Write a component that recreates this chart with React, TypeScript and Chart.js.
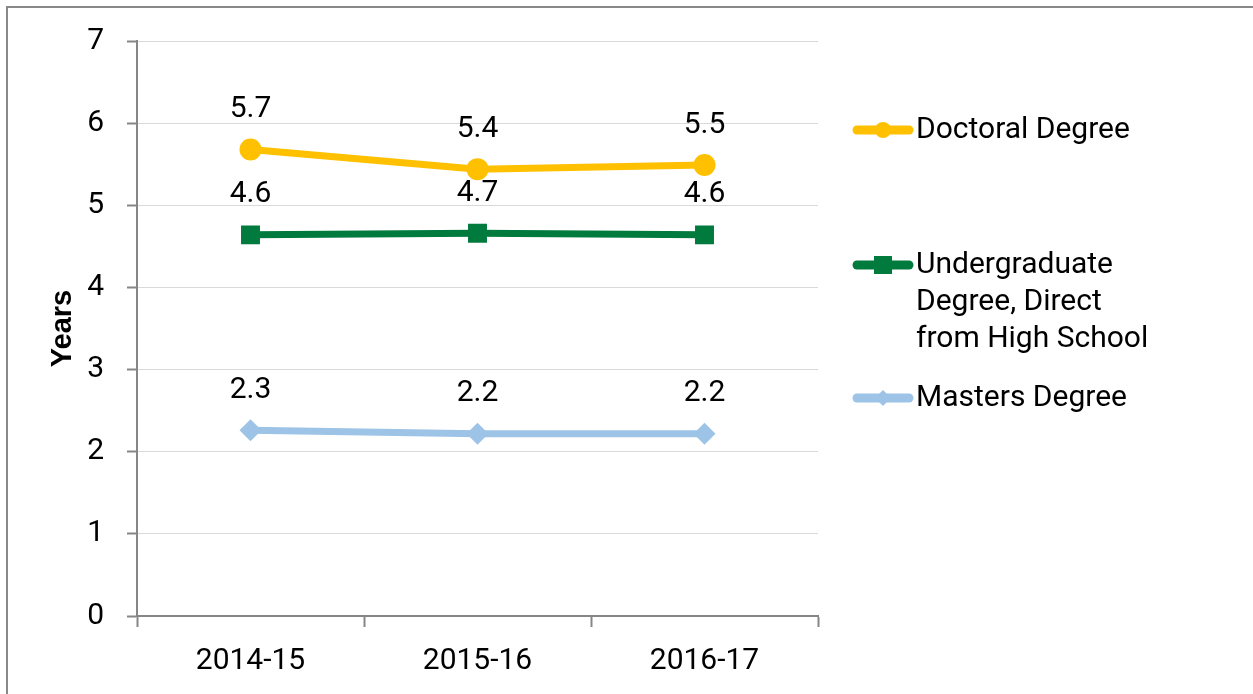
import React, { useEffect, useRef } from "react";
import { Chart, registerables } from "chart.js";

Chart.register(...registerables);

const categories = ["2014-15", "2015-16", "2016-17"];
const doctoral = [5.68, 5.44, 5.49];
const undergrad = [4.64, 4.66, 4.64];
const masters = [2.26, 2.22, 2.22];
const yMin = 0;
const yMax = 7;
const yStep = 1;
const seriesNames: (string | string[])[] = [
  "Doctoral Degree",
  ["Undergraduate", "Degree, Direct", "from High School"],
  "Masters Degree",
];
const colors = ["#FFC000", "#007A3D", "#9DC3E6"];
const axisTitle = "Years";

const FONT = "Roboto";

const framePlugin = {
  id: "frame",
  afterDraw(chart: any) {
    const ctx = chart.ctx;
    ctx.save();
    ctx.strokeStyle = "#888888";
    ctx.lineWidth = 2;
    ctx.beginPath();
    ctx.moveTo(7, chart.height);
    ctx.lineTo(7, 7);
    ctx.lineTo(chart.width, 7);
    ctx.stroke();
    ctx.restore();
  },
};

const dataLabelPlugin = {
  id: "dataLabels",
  afterDatasetsDraw(chart: any) {
    const ctx = chart.ctx;
    ctx.save();
    ctx.fillStyle = "#000";
    ctx.font = `30px ${FONT}`;
    ctx.textAlign = "center";
    ctx.textBaseline = "middle";
    chart.data.datasets.forEach((ds: any, i: number) => {
      const meta = chart.getDatasetMeta(i);
      meta.data.forEach((pt: any, j: number) => {
        ctx.fillText((ds.data[j] as number).toFixed(1), pt.x, pt.y - 40);
      });
    });
    ctx.restore();
  },
};

const legendPlugin = {
  id: "customLegend",
  afterDraw(chart: any) {
    const ctx = chart.ctx;
    const x0 = 853;
    const x1 = 913;
    const tx = 916;
    const ys = [130, 265, 398];
    const lineGap = 37;
    ctx.save();
    chart.data.datasets.forEach((ds: any, i: number) => {
      const y = ys[i];
      ctx.strokeStyle = ds.borderColor;
      ctx.fillStyle = ds.borderColor;
      ctx.lineWidth = 9;
      ctx.lineCap = "round";
      ctx.beginPath();
      ctx.moveTo(x0 + 4, y);
      ctx.lineTo(x1 - 4, y);
      ctx.stroke();
      const cx = (x0 + x1) / 2;
      ctx.beginPath();
      if (ds.pointStyle === "circle") {
        ctx.arc(cx, y, 8, 0, Math.PI * 2);
      } else if (ds.pointStyle === "rect") {
        ctx.rect(cx - 9, y - 9, 18, 18);
      } else {
        ctx.moveTo(cx, y - 8);
        ctx.lineTo(cx + 8, y);
        ctx.lineTo(cx, y + 8);
        ctx.lineTo(cx - 8, y);
        ctx.closePath();
      }
      ctx.fill();
      ctx.fillStyle = "#000";
      ctx.font = `30px ${FONT}`;
      ctx.textAlign = "left";
      ctx.textBaseline = "middle";
      const name = seriesNames[i];
      const lines = Array.isArray(name) ? name : [name];
      lines.forEach((ln, k) => ctx.fillText(ln, tx, y + k * lineGap));
    });
    ctx.restore();
  },
};

export default function App() {
  const ref = useRef<HTMLCanvasElement | null>(null);
  useEffect(() => {
    if (!ref.current) return;
    const chart = new Chart(ref.current, {
      type: "line",
      data: {
        labels: categories,
        datasets: [
          {
            label: "Doctoral Degree",
            data: doctoral,
            borderColor: colors[0],
            backgroundColor: colors[0],
            pointBackgroundColor: colors[0],
            borderWidth: 7,
            pointStyle: "circle",
            pointRadius: 11,
            pointBorderWidth: 0,
            tension: 0,
          },
          {
            label: "Undergraduate Degree, Direct from High School",
            data: undergrad,
            borderColor: colors[1],
            backgroundColor: colors[1],
            pointBackgroundColor: colors[1],
            borderWidth: 7,
            pointStyle: "rect",
            pointRadius: 13.4,
            pointBorderWidth: 0,
            tension: 0,
          },
          {
            label: "Masters Degree",
            data: masters,
            borderColor: colors[2],
            backgroundColor: colors[2],
            pointBackgroundColor: colors[2],
            borderWidth: 7,
            pointStyle: "rectRot",
            pointRadius: 11,
            pointBorderWidth: 0,
            tension: 0,
          },
        ],
      },
      options: {
        responsive: false,
        animation: false,
        layout: { padding: { left: 0, right: 435, top: 41, bottom: 0 } },
        plugins: {
          legend: { display: false },
          tooltip: { enabled: false },
        },
        scales: {
          x: {
            type: "category",
            offset: true,
            grid: {
              display: true,
              drawOnChartArea: false,
              drawTicks: true,
              tickLength: 11,
              offset: true,
              tickColor: "#868686",
              tickWidth: 2,
            },
            border: { display: true, color: "#868686", width: 2 },
            ticks: {
              color: "#000",
              font: { family: FONT, size: 30 },
              padding: 16,
              maxRotation: 0,
            },
            afterFit: (s: any) => {
              s.height = 78;
            },
          },
          y: {
            min: yMin,
            max: yMax,
            ticks: {
              stepSize: yStep,
              color: "#000",
              font: { family: FONT, size: 30 },
              padding: 23,
            },
            grid: {
              color: "#D9D9D9",
              lineWidth: 1,
              tickLength: 10,
              tickColor: "#868686",
              tickWidth: 2,
            },
            border: { display: true, color: "#868686", width: 2 },
            title: {
              display: true,
              text: axisTitle,
              color: "#000",
              font: { family: "Liberation Sans", size: 29, weight: "bold" },
              padding: { top: 46, bottom: 0 },
            },
            afterFit: (s: any) => {
              s.width = 137;
            },
          },
        },
      } as any,
      plugins: [dataLabelPlugin, legendPlugin, framePlugin],
    });
    let alive = true;
    (document as any).fonts?.ready?.then(() => {
      if (alive) chart.update();
    });
    return () => {
      alive = false;
      chart.destroy();
    };
  }, []);
  return (
    <div
      style={{
        position: "fixed",
        left: 0,
        top: 0,
        width: 1253,
        height: 694,
        background: "#fff",
      }}
    >
      <canvas ref={ref} width={1253} height={694} style={{ width: 1253, height: 694, display: "block" }} />
    </div>
  );
}
